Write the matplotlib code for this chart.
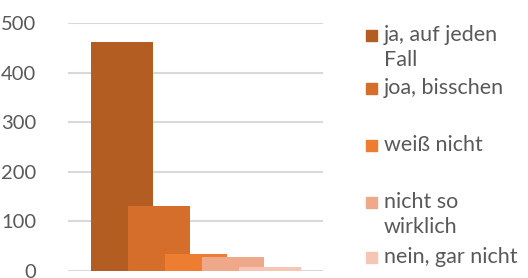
import numpy as np
import matplotlib
matplotlib.use("Agg")
import matplotlib.pyplot as plt
from matplotlib.patches import Rectangle

plt.rcParams['font.family'] = ['Lato', 'DejaVu Sans']

# answers and counts
labels = ['ja, auf jeden\nFall', 'joa, bisschen', 'weiß nicht', 'nicht so\nwirklich', 'nein, gar nicht']
counts = [461, 131, 35, 28, 8]
colors = ['#B45D22', '#D56E2B', '#ED7D31', '#F0A88A', '#F6C6B5']
yticks = [0, 100, 200, 300, 400, 500]

fig = plt.figure(figsize=(5.28, 2.78), dpi=100)
ax = fig.add_axes([68 / 528, 7 / 278, 255 / 528, 248 / 278])

# overlapping bars, Excel style
width = 0.243
step = 0.145
x0 = 0.212
for i, (c, col) in enumerate(zip(counts, colors)):
    ax.bar(x0 + i * step, c, width=width, color=col, zorder=3 + i)

ax.set_xlim(0, 1)
ax.set_ylim(0, 500)
ax.set_yticks(yticks)
ax.set_xticks([])
ax.yaxis.grid(True, color='#D9D9D9', linewidth=1.5, zorder=0)
ax.tick_params(axis='y', length=0, pad=23, labelsize=14.5, labelcolor='#595959')
for s in ax.spines.values():
    s.set_visible(False)
ax.set_axisbelow(True)

# legend on the right
legend_y = [35, 88, 145, 202, 257]
for lab, col, y in zip(labels, colors, legend_y):
    fig.patches.append(Rectangle((366 / 528, 1 - (y + 5.5) / 278), 11 / 528, 11 / 278,
                                 transform=fig.transFigure, color=col))
    fig.text(384 / 528, 1 - (y - 10) / 278, lab, fontsize=15.5, color='#595959',
             va='top', ha='left', linespacing=1.3)

fig.savefig('out.png', dpi=100)
